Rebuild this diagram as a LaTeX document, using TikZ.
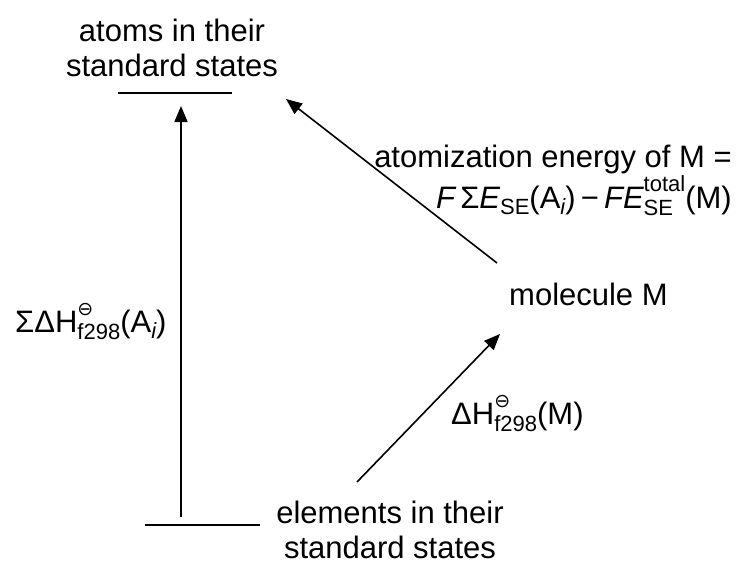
\documentclass[tikz,border=0pt]{standalone}
\usepackage{fontspec}
\setmainfont{Liberation Sans}
\newfontfamily\symfont{DejaVu Sans}
\usetikzlibrary{arrows.meta}
\newcommand{\stdsym}{{\symfont\fontsize{19}{19}\selectfont ⊖}}
\newcommand{\subsz}{\fontsize{22}{24}\selectfont}
\newcommand{\supsub}[2]{\raisebox{-7pt}{\subsz\begin{tabular}[b]{@{}l@{}}#1\\#2\end{tabular}}}
\newcommand{\lowsub}[1]{\raisebox{-6pt}{\subsz #1}}
\tikzset{
  lbl/.style={font=\fontsize{31}{35}\selectfont, inner sep=0pt, align=center},
  lvl/.style={line width=1.6pt},
  arr/.style={line width=1.6pt, -{Triangle[length=16pt,width=13pt]}},
}
\begin{document}
\begin{tikzpicture}[x=1pt,y=-1pt]
\useasboundingbox (0,0) rectangle (737,565);
\node[lbl] (top) at (172,48) {atoms in their\\standard states};
\node[lbl] (bot) at (390,530) {elements in their\\standard states};
\node[lbl, anchor=base west] (mol) at (509,305) {molecule M};
\node[lbl, align=right, anchor=east] (ae) at (732,184) {atomization energy of M =\\{\itshape F}\,Σ{\itshape E}\lowsub{SE}(A\lowsub{\itshape i})\,−\,{\itshape FE}\supsub{total}{SE}(M)};
\node[lbl, anchor=base west] (hl) at (15,332) {ΣΔH\supsub{\stdsym}{f298}(A\lowsub{\itshape i})};
\node[lbl, anchor=base west] (hm) at (451,424) {ΔH\supsub{\stdsym}{f298}(M)};
\coordinate (tl) at (118,93);
\coordinate (tr) at (232,93);
\coordinate (bl) at (145,525);
\coordinate (br) at (260,525);
\draw[lvl] (tl) -- (tr);
\draw[lvl] (bl) -- (br);
\coordinate (vs) at (181,517);
\coordinate (ve) at (181,106);
\draw[arr] (vs) -- (ve);
\coordinate (ms) at (357,482);
\coordinate (me) at (500,334);
\draw[arr] (ms) -- (me);
\coordinate (as) at (497,263);
\coordinate (ae2) at (286,99);
\draw[arr] (as) -- (ae2);
\end{tikzpicture}
\end{document}
